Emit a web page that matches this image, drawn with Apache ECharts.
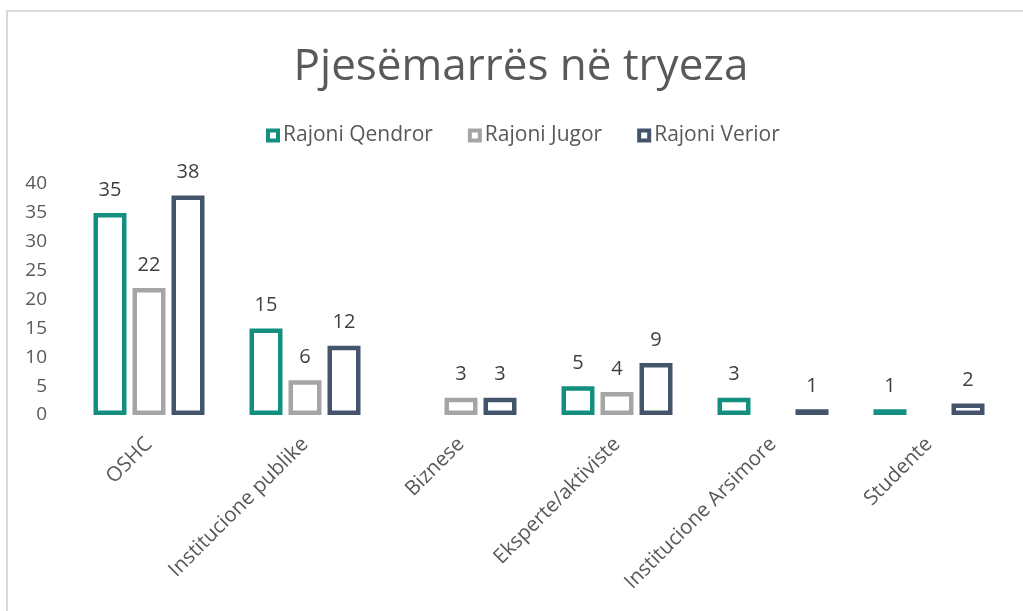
<!DOCTYPE html>
<html>
<head>
<meta charset="utf-8">
<script src="https://cdn.jsdelivr.net/npm/echarts@6/dist/echarts.min.js"></script>
<style>
  html, body { margin: 0; padding: 0; background: #fff; }
  #frame {
    position: absolute; left: 6px; top: 10px; right: -2px; bottom: -2px;
    border-left: 2px solid #d9d9d9; border-top: 2px solid #d9d9d9;
  }
  #chart { position: absolute; left: 0; top: 0; width: 1023px; height: 611px; }
</style>
</head>
<body>
<div id="frame"></div>
<div id="chart"></div>
<script>
const categories = ["OSHC", "Institucione publike", "Biznese", "Eksperte/aktiviste", "Institucione Arsimore", "Studente"];
const seriesNames = ["Rajoni Qendror", "Rajoni Jugor", "Rajoni Verior"];
const qendror = [35, 15, null, 5, 3, 1];
const jugor = [22, 6, 3, 4, null, null];
const verior = [38, 12, 3, 9, 1, 2];
const colors = ["#138f80", "#a5a5a5", "#44546a"];
const font = "'Open Sans', sans-serif";

function makeSeries(name, data, color) {
    return {
        name: name,
        type: "bar",
        data: data,
        barWidth: 33,
        barGap: "18.2%",
        itemStyle: { color: "#ffffff", borderColor: color, borderWidth: 4.5 },
        label: {
            show: true,
            position: "top",
            distance: 13,
            color: "#404040",
            fontSize: 20,
            fontFamily: font
        }
    };
}

const chart = echarts.init(document.getElementById("chart"));
chart.setOption({
    backgroundColor: "transparent",
    animation: false,
    title: {
        text: "Pjesëmarrës në tryeza",
        left: 516,
        textAlign: "center",
        top: 40,
        textStyle: { color: "#595959", fontSize: 44, fontWeight: "normal", fontFamily: font }
    },
    legend: {
        data: seriesNames,
        top: 120,
        left: 261,
        itemWidth: 10,
        itemHeight: 10,
        itemGap: 35,
        icon: "rect",
        itemStyle: { borderWidth: 4 },
        textStyle: { color: "#595959", fontSize: 21, fontFamily: font, padding: [0, 0, 0, 0] }
    },
    grid: { left: 71, right: 16, top: 184, bottom: 196, containLabel: false },
    xAxis: {
        type: "category",
        data: categories,
        axisLine: { show: false },
        axisTick: { show: false },
        axisLabel: {
            rotate: 45,
            interval: 0,
            margin: 26,
            color: "#595959",
            fontSize: 20.5,
            fontFamily: font
        }
    },
    yAxis: {
        type: "value",
        min: 0,
        max: 40,
        interval: 5,
        splitLine: { show: false },
        axisLine: { show: false },
        axisTick: { show: false },
        axisLabel: { color: "#595959", fontSize: 19, fontFamily: font, margin: 24 }
    },
    series: [
        makeSeries(seriesNames[0], qendror, colors[0]),
        makeSeries(seriesNames[1], jugor, colors[1]),
        makeSeries(seriesNames[2], verior, colors[2])
    ]
});
</script>
</body>
</html>
